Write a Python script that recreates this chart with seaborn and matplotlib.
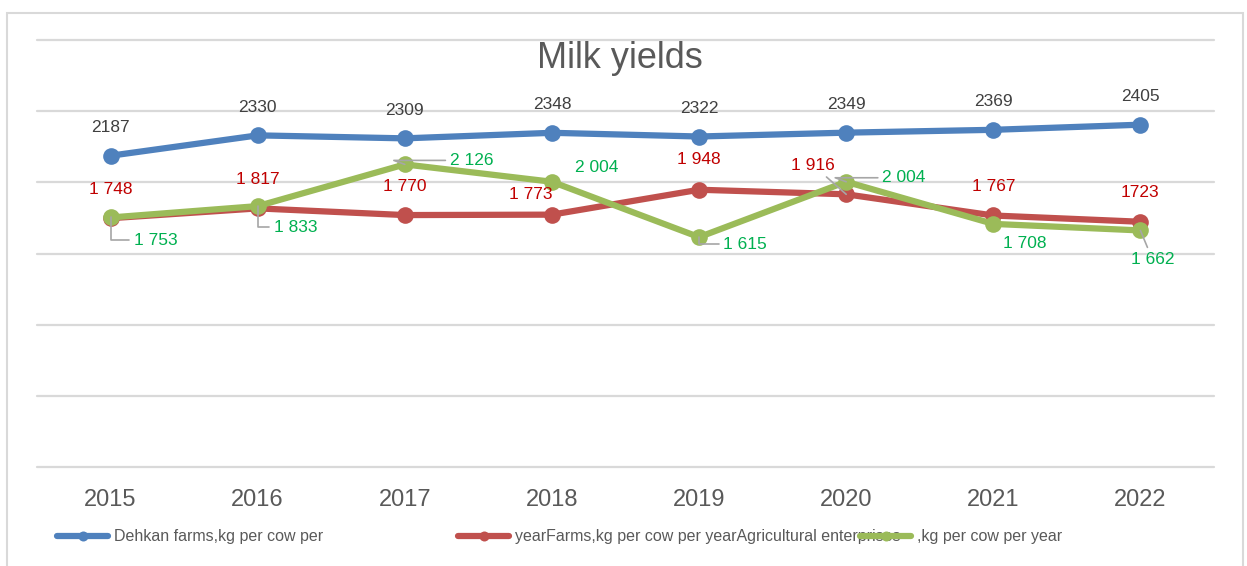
"""
Milk yields line chart: Dehkan farms, farms and agricultural enterprises,
kg per cow per year, 2015-2022.
"""
import numpy as np
import pandas as pd
from matplotlib import pyplot as plt
from matplotlib.patches import Rectangle
import seaborn as sns

# Data
years = ["2015", "2016", "2017", "2018", "2019", "2020", "2021", "2022"]
dehkan = [2187, 2330, 2309, 2348, 2322, 2349, 2369, 2405]
farms = [1748, 1817, 1770, 1773, 1948, 1916, 1767, 1723]
agri = [1753, 1833, 2126, 2004, 1615, 2004, 1708, 1662]
series_labels = [
    "Dehkan farms,kg per cow per",
    "yearFarms,kg per cow per yearAgricultural enterprises",
    ",kg per cow per year",
]

W, H = 1247, 566
palette = {"blue": "#4F81BD", "red": "#C0504D", "green": "#9BBB59"}
line_colors = [palette["blue"], palette["red"], palette["green"]]
label_colors = ["#404040", "#C00000", "#00B050"]
grid_color = "#D9D9D9"
text_gray = "#595959"
leader_gray = "#A6A6A6"

df = pd.DataFrame(
    {
        "year": years * 3,
        "value": dehkan + farms + agri,
        "series": np.repeat(series_labels, len(years)),
    }
)

sns.set_style("white")
plt.rcParams["font.family"] = ["Liberation Sans", "DejaVu Sans"]

fig = plt.figure(figsize=(W / 100, H / 100), dpi=100)
ax = fig.add_axes([37 / W, 1 - 467 / H, (1214 - 37) / W, (467 - 40) / H])

sns.lineplot(
    data=df,
    x="year",
    y="value",
    hue="series",
    hue_order=series_labels,
    palette=line_colors,
    marker="o",
    markersize=12,
    markeredgewidth=0,
    linewidth=4.5,
    sort=False,
    legend=False,
    ax=ax,
)
for i, ln in enumerate(ax.lines):
    ln.set_zorder(3 + i)

# Axes formatting
ax.set_xlim(-0.5, len(years) - 0.5)
ax.set_ylim(0, 3000)
ax.set_yticks(np.arange(0, 3001, 500))
ax.set_yticklabels([])
ax.grid(axis="y", color=grid_color, lw=1.6)
ax.grid(axis="x", visible=False)
for gl in ax.get_ygridlines():
    gl.set_clip_on(False)
for s in ax.spines.values():
    s.set_visible(False)
ax.tick_params(axis="both", length=0)
ax.tick_params(axis="x", labelsize=17, labelcolor=text_gray, pad=16)
ax.set_xlabel("")
ax.set_ylabel("")

# Data labels: offsets in pixels (dx, dy), leader connection style or None
blue_off = [(0, 28)] * 8
red_off = [(0, 29), (0, 29), (0, 29), (-21, 20), (0, 30), (-33, 29), (0, 29), (0, 29)]
red_lead = [None, None, None, None, None, "arc3", None, None]
green_off = [(45, -23), (38, -21), (67, 4), (45, 14), (46, -7), (58, 4), (31, -20), (12, -29)]
green_lead = [
    "angle,angleA=0,angleB=90",
    "angle,angleA=0,angleB=90",
    "angle,angleA=0,angleB=160",
    None,
    "angle,angleA=0,angleB=90",
    "angle,angleA=0,angleB=160",
    None,
    "arc3",
]


def fmt_space(v):
    return f"{v:,}".replace(",", " ")


blue_txt = [str(v) for v in dehkan]
red_txt = [fmt_space(v) for v in farms[:-1]] + [str(farms[-1])]
green_txt = [fmt_space(v) for v in agri]

groups = [
    (dehkan, blue_txt, blue_off, [None] * 8, label_colors[0]),
    (farms, red_txt, red_off, red_lead, label_colors[1]),
    (agri, green_txt, green_off, green_lead, label_colors[2]),
]
for vals, txts, offs, leads, col in groups:
    for i, (v, t, o, lead) in enumerate(zip(vals, txts, offs, leads)):
        arrow = None
        if lead is not None:
            arrow = dict(
                arrowstyle="-",
                color=leader_gray,
                lw=1.2,
                connectionstyle=lead,
                shrinkA=1,
                shrinkB=0,
            )
        ax.annotate(
            t,
            xy=(i, v),
            xytext=o,
            textcoords="offset pixels",
            ha="center",
            va="center",
            fontsize=12.5,
            color=col,
            arrowprops=arrow,
            zorder=10,
        )

# Title
fig.text(620 / W, 1 - 59 / H, "Milk yields", fontsize=26, color=text_gray,
         ha="center", va="center")

# Legend: three entries placed like the original
legend_x = [57, 458, 860]
for i, x in enumerate(legend_x):
    leg = fig.legend(
        handles=[ax.lines[i]],
        labels=[series_labels[i]],
        loc="center left",
        bbox_to_anchor=(x / W, 1 - 537 / H),
        frameon=False,
        fontsize=11.5,
        labelcolor=text_gray,
        handlelength=3.2,
        handletextpad=0.35,
        borderpad=0,
        borderaxespad=0,
        markerscale=0.6,
    )
    leg.set_zorder(1 + i)

# Outer chart border
fig.patches.append(
    Rectangle((7 / W, -0.1), (1243 - 7) / W, 1 - 13 / H + 0.1,
              transform=fig.transFigure, fill=False, edgecolor=grid_color, lw=1.5)
)

plt.savefig("out.png", dpi=100)
